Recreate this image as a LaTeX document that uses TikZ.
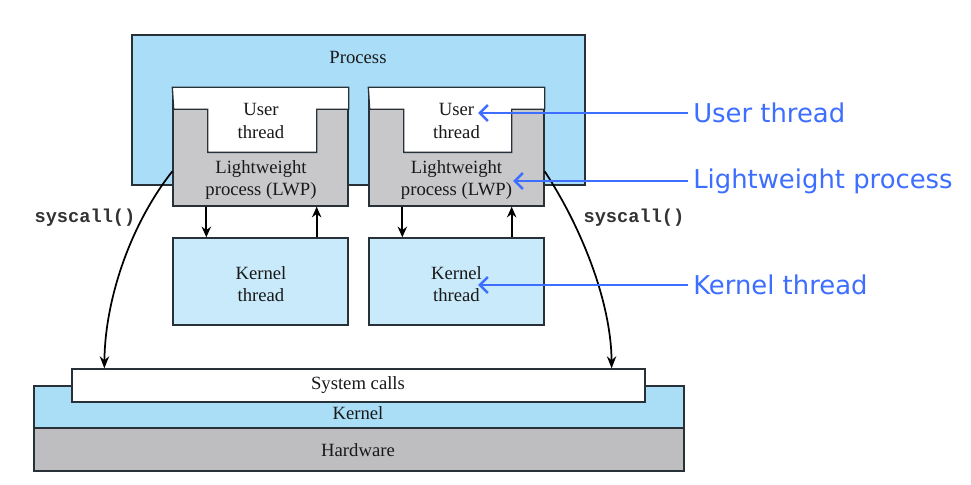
\documentclass[tikz,border=0pt]{standalone}
\usepackage{fontspec}
\setmainfont{Liberation Serif}
\setmonofont{Liberation Mono}
\newfontfamily\annfont{DejaVu Sans}
\usetikzlibrary{arrows.meta,calc,fit}
\definecolor{procblue}{RGB}{170,222,248}
\definecolor{kthblue}{RGB}{200,234,250}
\definecolor{kernblue}{RGB}{170,222,246}
\definecolor{lwpgray}{RGB}{200,200,202}
\definecolor{hwgray}{RGB}{190,190,193}
\definecolor{annblue}{RGB}{61,110,255}
\definecolor{edge}{RGB}{40,48,56}
\begin{document}
\begin{tikzpicture}[x=0.75pt,y=-0.75pt,
  box/.style={draw=edge, line width=1pt, inner sep=0pt},
  txt/.style={font=\fontsize{14}{17}\selectfont, text=black!90, align=center, inner sep=0pt},
  mono/.style={font=\ttfamily\bfseries\fontsize{14}{16}\selectfont, text=black!80, inner sep=0pt},
  ann/.style={font=\annfont\fontsize{19.4}{22}\selectfont, text=annblue, anchor=west, inner sep=0pt},
  annarrow/.style={draw=annblue, line width=1.9pt, -{Straight Barb[length=6pt,width=12pt]}},
  karrow/.style={draw=black, line width=1.4pt, -{Stealth[length=8pt,width=7pt]}},
  scarrow/.style={draw=black, line width=1.3pt, -{Stealth[length=9pt,width=7pt]}}
]
\fill[white] (0,0) rectangle (971,485);
\useasboundingbox (0,0) rectangle (971,485);

% process
\node[box, fill=procblue, fit={(132,35)(585,185)}] (proc) {};
\node[txt] (proctxt) at (358,57) {Process};

% LWP boxes
\node[box, fill=lwpgray, fit={(173,88)(348,206)}] (lwpL) {};
\node[box, fill=lwpgray, fit={(369,88)(544,206)}] (lwpR) {};
\draw[draw=edge, line width=1pt, fill=white] (lwpL.north west) -- (lwpL.north east) -- ++(0,22) -- ++(-32,0) -- ++(0,43) -- ++(-109,0) -- ++(0,-43) -- ++(-34,0) -- cycle;
\draw[draw=edge, line width=1pt, fill=white] (lwpR.north west) -- (lwpR.north east) -- ++(0,22) -- ++(-33,0) -- ++(0,43) -- ++(-108,0) -- ++(0,-43) -- ++(-34,0) -- cycle;
\node[txt] (utL) at (261,121) {User\\thread};
\node[txt] (utR) at (456.5,121) {User\\thread};
\node[txt] (lwL) at (261,180) {Lightweight\\process (LWP)};
\node[txt] (lwR) at (456.5,180) {Lightweight\\process (LWP)};

% kernel threads
\node[box, fill=kthblue, fit={(173,238)(348,325)}] (ktL) {};
\node[box, fill=kthblue, fit={(369,238)(544,325)}] (ktR) {};
\node[txt] (ktLt) at (261,284) {Kernel\\thread};
\node[txt] (ktRt) at (456.5,284) {Kernel\\thread};

\draw[karrow] ($(lwpL.south west)+(34,0)$) -- ($(ktL.north west)+(34,0)$);
\draw[karrow] ($(ktL.north east)+(-32,0)$) -- ($(lwpL.south east)+(-32,0)$);
\draw[karrow] ($(lwpR.south west)+(34,0)$) -- ($(ktR.north west)+(34,0)$);
\draw[karrow] ($(ktR.north east)+(-33,0)$) -- ($(lwpR.south east)+(-33,0)$);

% bottom layers
\node[box, fill=kernblue, fit={(34,386)(684,428)}] (kern) {};
\node[box, fill=hwgray, fit={(34,428)(684,471)}] (hw) {};
\node[box, fill=white, fit={(72,369)(645,402)}] (sys) {};
\node[txt] (systxt) at (358,385) {System calls};
\node[txt] (kerntxt) at (358,413) {Kernel};
\node[txt] (hwtxt) at (358,450) {Hardware};

% syscall curves
\coordinate (sL) at ($(lwpL.north west)+(0,84)$);
\coordinate (sR) at ($(lwpR.north east)+(0,84)$);
\draw[scarrow] (sL) .. controls (130,225) and (105,300) .. ($(sys.north west)+(33,0)$);
\draw[scarrow] (sR) .. controls (580,225) and (611,300) .. ($(sys.north east)+(-34,0)$);
\node[mono] (scL) at (85,218) {syscall()};
\node[mono] (scR) at (634,218) {syscall()};

% annotations
\node[ann] (aUT) at (693,113) {User thread};
\node[ann] (aLW) at (693,181) {Lightweight process};
\node[ann] (aKT) at (693,285) {Kernel thread};
\coordinate (tUT) at (478,113);
\coordinate (tLW) at (513,181);
\coordinate (tKT) at (478,285);
\draw[annarrow] ($(aUT.west)+(-5,0)$) -- (tUT);
\draw[annarrow] ($(aLW.west)+(-5,0)$) -- (tLW);
\draw[annarrow] ($(aKT.west)+(-5,0)$) -- (tKT);
\end{tikzpicture}
\end{document}
